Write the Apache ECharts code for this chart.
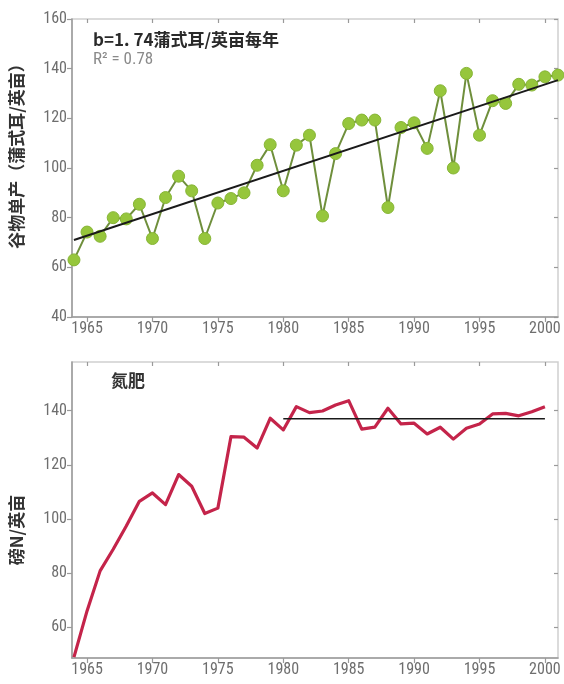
<!DOCTYPE html>
<html>
<head>
<meta charset="utf-8">
<script src="https://cdn.jsdelivr.net/npm/echarts@6/dist/echarts.min.js"></script>
<style>
html,body{margin:0;padding:0;background:#fff;}
#chart{width:564px;height:684px;}
</style>
</head>
<body>
<div id="chart"></div>
<script>
// ---- Data ----
const years = [1964,1965,1966,1967,1968,1969,1970,1971,1972,1973,1974,1975,1976,1977,1978,1979,1980,1981,1982,1983,1984,1985,1986,1987,1988,1989,1990,1991,1992,1993,1994,1995,1996,1997,1998,1999,2000,2001];
const yieldValues = [63,74.2,72.5,80,79.5,85.4,71.6,88.1,96.7,90.8,71.6,85.9,87.7,90,101.1,109.4,90.8,109.2,113.2,80.7,105.8,117.9,119.3,119.3,84.1,116.3,118.2,107.9,131.1,100,138.1,113.2,127.1,126,133.7,133.4,136.7,137.4];
const trendYears = [1964, 2001];
const trendValues = [71, 135.4];

const nYears = [1964,1965,1966,1967,1968,1969,1970,1971,1972,1973,1974,1975,1976,1977,1978,1979,1980,1981,1982,1983,1984,1985,1986,1987,1988,1989,1990,1991,1992,1993,1994,1995,1996,1997,1998,1999,2000];
const nValues = [48.9,66,80.8,88.8,97.4,106.5,109.6,105.3,116.4,112.1,102,104,130.4,130.2,126.2,137.2,132.9,141.5,139.3,139.9,142.1,143.7,133.2,133.9,140.9,135.1,135.4,131.4,133.9,129.5,133.5,135.1,138.8,139,138.1,139.6,141.5];
const meanYears = [1980, 2000];
const meanValues = [137, 137];

const xTicks = [1965,1970,1975,1980,1985,1990,1995,2000];
const yTicksTop = [40,60,80,100,120,140,160];
const yTicksBottom = [60,80,100,120,140];

const annotationTop = 'b=1. 74蒲式耳/英亩每年';
const annotationR2 = 'R² = 0.78';
const annotationBottom = '氮肥';
const yNameTop = '谷物单产（蒲式耳/英亩）';
const yNameBottom = '磅N/英亩';

// ---- Chart ----
const pair = (xs, ys) => xs.map((x, i) => [x, ys[i]]);
const labelFont = "'Liberation Sans Narrow','Roboto Condensed','DejaVu Sans Condensed',Roboto,sans-serif";
const axisGray = '#9a9a9a';
const labelGray = '#6e6e6e';
const cjk = "'Noto Sans CJK SC',sans-serif";
const plain = v => String(v);

function xAx(gridIndex, inside) {
  return {
    type: 'value', gridIndex, min: 1963.85, max: 2001,
    axisLine: {show: !inside, lineStyle: {color: axisGray, width: 1.5}},
    axisTick: {show: true, inside: inside, length: inside ? 4 : 5, customValues: xTicks, lineStyle: {color: axisGray, width: 1.2}},
    axisLabel: {show: !inside, customValues: xTicks, formatter: plain, color: labelGray, fontSize: 16, fontFamily: labelFont, margin: 4},
    splitLine: {show: false}
  };
}
function yAx(gridIndex, min, max, ticks, inside) {
  return {
    type: 'value', gridIndex, min, max,
    axisLine: {show: !inside, lineStyle: {color: axisGray, width: 1.5}},
    axisTick: {show: true, inside: inside, length: inside ? 4 : 5, customValues: ticks, lineStyle: {color: axisGray, width: 1.2}},
    axisLabel: {show: !inside, customValues: ticks, formatter: plain, color: labelGray, fontSize: 16, fontFamily: labelFont, margin: 5},
    splitLine: {show: false}
  };
}

const chart = echarts.init(document.getElementById('chart'), null, {renderer: 'canvas'});
chart.setOption({
  animation: false,
  backgroundColor: '#fff',
  grid: [
    {left: 72, top: 19, width: 486, height: 298, show: true, borderColor: '#cfcfcf', borderWidth: 1.5, backgroundColor: 'transparent'},
    {left: 72, top: 362, width: 486, height: 296, show: true, borderColor: '#cfcfcf', borderWidth: 1.5, backgroundColor: 'transparent'}
  ],
  xAxis: [xAx(0, false), xAx(1, false), xAx(0, true), xAx(1, true)],
  yAxis: [yAx(0, 40, 160, yTicksTop, false), yAx(1, 48.6, 158, yTicksBottom, false), yAx(0, 40, 160, yTicksTop, true), yAx(1, 48.6, 158, yTicksBottom, true)],
  series: [
    {
      type: 'line', xAxisIndex: 0, yAxisIndex: 0, data: pair(years, yieldValues),
      symbol: 'circle', symbolSize: 12, z: 3,
      lineStyle: {color: '#6f8f3c', width: 2},
      itemStyle: {color: '#96c63c', borderColor: '#86b535', borderWidth: 1}
    },
    {
      type: 'line', xAxisIndex: 0, yAxisIndex: 0, data: pair(trendYears, trendValues),
      symbol: 'none', z: 4,
      lineStyle: {color: '#1a1a1a', width: 2}
    },
    {
      type: 'line', xAxisIndex: 1, yAxisIndex: 1, data: pair(nYears, nValues),
      symbol: 'none', z: 3,
      lineStyle: {color: '#c4244a', width: 3.2, join: 'round'}
    },
    {
      type: 'line', xAxisIndex: 1, yAxisIndex: 1, data: pair(meanYears, meanValues),
      symbol: 'none', z: 4,
      lineStyle: {color: '#1a1a1a', width: 1.5}
    }
  ],
  graphic: [
    {type: 'text', left: 93, top: 31, style: {text: annotationTop, fill: '#2a2a2a', font: "bold 17px " + cjk}},
    {type: 'text', left: 93, top: 51, style: {text: annotationR2, fill: '#8a8a8a', font: "17px " + labelFont}},
    {type: 'text', left: 111, top: 372, style: {text: annotationBottom, fill: '#333', font: "bold 17px " + cjk}},
    {type: 'text', x: 17, y: 152, rotation: Math.PI / 2, style: {text: yNameTop, fill: '#333', font: "bold 17px " + cjk, align: 'center', verticalAlign: 'middle'}},
    {type: 'text', x: 17, y: 530, rotation: Math.PI / 2, style: {text: yNameBottom, fill: '#333', font: "bold 17px " + cjk, align: 'center', verticalAlign: 'middle'}}
  ]
});
</script>
</body>
</html>
